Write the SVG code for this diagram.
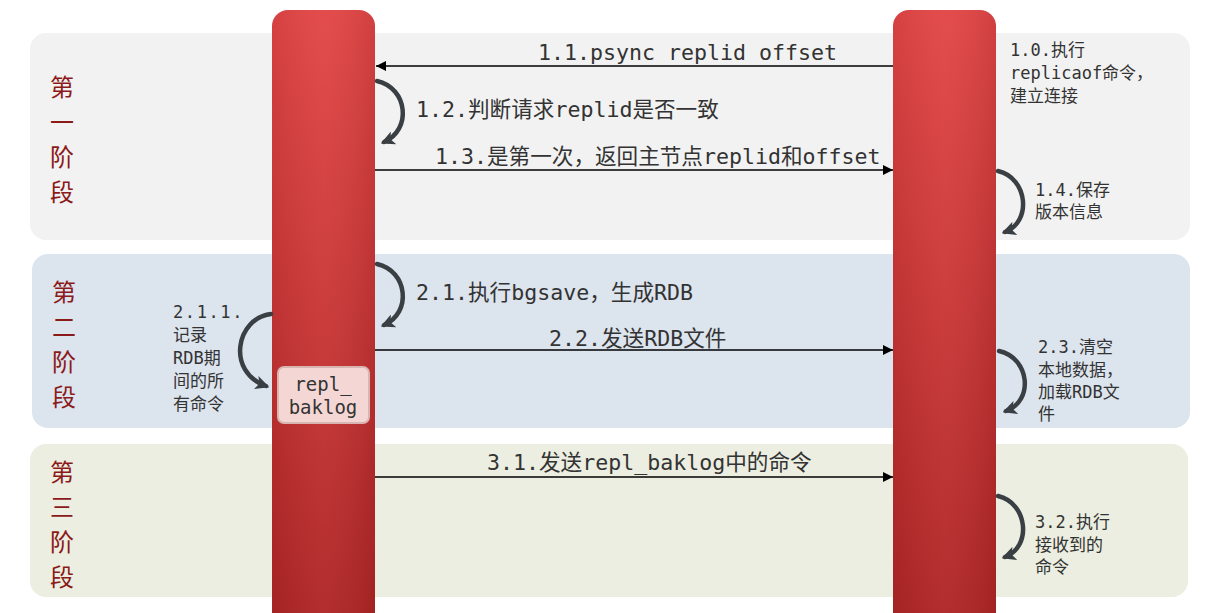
<svg xmlns="http://www.w3.org/2000/svg" width="1210" height="613" viewBox="0 0 1210 613">
<style>
.mono{font-family:"DejaVu Sans Mono","Noto Sans CJK SC",monospace;fill:#333}
.big{font-size:21.6px}
.sm{font-size:17px}
.stage{font-family:"Noto Sans CJK SC",sans-serif;font-size:24px;fill:#8b1a1a;text-anchor:middle}
.line{stroke:#000;stroke-width:1.3;fill:none}
.curve{stroke:#3a3f44;stroke-width:4.5;fill:none;stroke-linecap:round}
</style>
<defs>
<linearGradient id="bar" x1="0" y1="0" x2="0" y2="1">
<stop offset="0" stop-color="#e24545"/>
<stop offset="1" stop-color="#ae2424"/>
</linearGradient>
<linearGradient id="barh" x1="0" y1="0" x2="1" y2="0">
<stop offset="0" stop-color="#000" stop-opacity="0.06"/>
<stop offset="0.5" stop-color="#fff" stop-opacity="0.04"/>
<stop offset="1" stop-color="#000" stop-opacity="0.08"/>
</linearGradient>
<marker id="ah" viewBox="0 0 10 10" refX="10" refY="5" markerWidth="10" markerHeight="10" markerUnits="userSpaceOnUse" orient="auto">
<path d="M0,0 L10,5 L0,10 z" fill="#000"/>
</marker>
<marker id="ch" viewBox="0 0 12 12" refX="9" refY="6" markerWidth="14" markerHeight="14" markerUnits="userSpaceOnUse" orient="auto">
<path d="M0,0 L12,6 L0,12 L3,6 z" fill="#3a3f44"/>
</marker>
</defs>
<rect width="1210" height="613" fill="#fff"/>
<g id="panels">
<rect x="30" y="33" width="1160" height="207" rx="16" fill="#f2f2f2"/>
<rect x="32" y="254" width="1158" height="174" rx="16" fill="#dce4ee"/>
<rect x="30" y="444" width="1158" height="153" rx="16" fill="#ebeee0"/>
</g>
<g id="stage1">
<text class="stage" x="62" y="96">第</text>
<text class="stage" x="62" y="131">一</text>
<text class="stage" x="62" y="166">阶</text>
<text class="stage" x="62" y="201">段</text>
</g>
<g id="stage2">
<text class="stage" x="64" y="301">第</text>
<text class="stage" x="64" y="336">二</text>
<text class="stage" x="64" y="371">阶</text>
<text class="stage" x="64" y="406">段</text>
</g>
<g id="stage3">
<text class="stage" x="62" y="481">第</text>
<text class="stage" x="62" y="516">三</text>
<text class="stage" x="62" y="551">阶</text>
<text class="stage" x="62" y="586">段</text>
</g>
<g id="slave">
<rect x="272" y="10" width="103" height="620" rx="16" fill="url(#bar)"/>
<rect x="272" y="10" width="103" height="620" rx="16" fill="url(#barh)"/>
</g>
<g id="master">
<rect x="893" y="10" width="103" height="620" rx="16" fill="url(#bar)"/>
<rect x="893" y="10" width="103" height="620" rx="16" fill="url(#barh)"/>
</g>
<g id="repl_baklog">
<rect x="278" y="367" width="91" height="56" rx="6" fill="#f4d7d5" stroke="#d9b5b2" stroke-width="2"/>
<text class="mono" x="323" y="391" font-size="19" text-anchor="middle">repl_</text>
<text class="mono" x="323" y="414" font-size="19" text-anchor="middle">baklog</text>
</g>
<g id="connectors">
<line class="line" x1="893" y1="66" x2="376" y2="66" marker-end="url(#ah)"/>
<line class="line" x1="375" y1="170" x2="893" y2="170" marker-end="url(#ah)"/>
<line class="line" x1="375" y1="350" x2="893" y2="350" marker-end="url(#ah)"/>
<line class="line" x1="375" y1="477" x2="893" y2="477" marker-end="url(#ah)"/>
<path class="curve" d="M377,81 C408,88 412,130 384,142" marker-end="url(#ch)"/>
<path class="curve" d="M377,264 C408,271 412,313 384,325" marker-end="url(#ch)"/>
<path class="curve" d="M998,171 C1028,178 1032,222 1005,232" marker-end="url(#ch)"/>
<path class="curve" d="M999,351 C1030,358 1034,401 1006,411" marker-end="url(#ch)"/>
<path class="curve" d="M998,496 C1028,503 1032,547 1005,557" marker-end="url(#ch)"/>
<path class="curve" d="M271,314 C236,318 226,372 266,386" marker-end="url(#ch)"/>
</g>
<g id="labels">
<text class="mono big" x="538" y="60">1.1.psync replid offset</text>
<text class="mono big" x="416" y="117">1.2.判断请求replid是否一致</text>
<text class="mono big" x="435" y="164">1.3.是第一次，返回主节点replid和offset</text>
<text class="mono big" x="416" y="300">2.1.执行bgsave，生成RDB</text>
<text class="mono big" x="549" y="346">2.2.发送RDB文件</text>
<text class="mono big" x="487" y="470">3.1.发送repl_baklog中的命令</text>
<text class="mono sm"><tspan x="1010" y="56">1.0.执行</tspan><tspan x="1010" y="79">replicaof命令，</tspan><tspan x="1010" y="102">建立连接</tspan></text>
<text class="mono sm"><tspan x="1035" y="196">1.4.保存</tspan><tspan x="1035" y="218">版本信息</tspan></text>
<text class="mono sm"><tspan x="1038" y="353">2.3.清空</tspan><tspan x="1038" y="376">本地数据，</tspan><tspan x="1038" y="398">加载RDB文</tspan><tspan x="1038" y="420">件</tspan></text>
<text class="mono sm"><tspan x="1035" y="528">3.2.执行</tspan><tspan x="1035" y="551">接收到的</tspan><tspan x="1035" y="573">命令</tspan></text>
<text class="mono sm"><tspan x="173" y="318" letter-spacing="1.6">2.1.1.</tspan><tspan x="173" y="341">记录</tspan><tspan x="173" y="364">RDB期</tspan><tspan x="173" y="387">间的所</tspan><tspan x="173" y="410">有命令</tspan></text>
</g>
</svg>
